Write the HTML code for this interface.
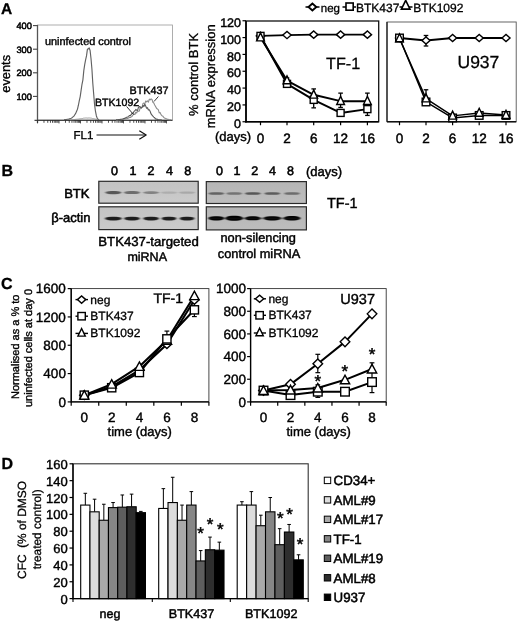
<!DOCTYPE html>
<html><head><meta charset="utf-8"><title>Figure</title>
<style>
html,body{margin:0;padding:0;background:#fff;}
body{width:520px;height:621px;overflow:hidden;font-family:"Liberation Sans",sans-serif;}
svg{display:block;will-change:transform;}
svg text{font-family:"Liberation Sans",sans-serif;}
</style></head>
<body>
<svg width="520" height="621" viewBox="0 0 520 621" shape-rendering="geometricPrecision" text-rendering="geometricPrecision">
<rect x="0" y="0" width="520" height="621" fill="#ffffff"/>
<text x="1.00" y="13.60" font-size="15.5" text-anchor="start" font-weight="bold" fill="#000" stroke="#000" stroke-width="0.3" >A</text>
<text x="1.50" y="176.00" font-size="16" text-anchor="start" font-weight="bold" fill="#000" stroke="#000" stroke-width="0.3" >B</text>
<text x="1.00" y="289.20" font-size="16" text-anchor="start" font-weight="bold" fill="#000" stroke="#000" stroke-width="0.3" >C</text>
<text x="1.50" y="468.70" font-size="16" text-anchor="start" font-weight="bold" fill="#000" stroke="#000" stroke-width="0.3" >D</text>
<rect x="37.5" y="25.0" width="135.0" height="95.0" fill="none" stroke="#9a9a9a" stroke-width="0.8"/>
<line x1="37.50" y1="25.00" x2="37.50" y2="123.00" stroke="#555" stroke-width="1.3" stroke-linecap="butt"/>
<line x1="34.50" y1="120.30" x2="172.50" y2="120.30" stroke="#444" stroke-width="1.3" stroke-linecap="butt"/>
<line x1="33.00" y1="96.40" x2="37.50" y2="96.40" stroke="#444" stroke-width="1.1" stroke-linecap="butt"/>
<text x="31.90" y="100.00" font-size="9.3" text-anchor="end" font-weight="normal" fill="#000" stroke="#000" stroke-width="0.5" >100</text>
<line x1="33.00" y1="72.80" x2="37.50" y2="72.80" stroke="#444" stroke-width="1.1" stroke-linecap="butt"/>
<text x="31.90" y="76.40" font-size="9.3" text-anchor="end" font-weight="normal" fill="#000" stroke="#000" stroke-width="0.5" >200</text>
<line x1="33.00" y1="49.20" x2="37.50" y2="49.20" stroke="#444" stroke-width="1.1" stroke-linecap="butt"/>
<text x="31.90" y="52.80" font-size="9.3" text-anchor="end" font-weight="normal" fill="#000" stroke="#000" stroke-width="0.5" >300</text>
<line x1="33.00" y1="25.60" x2="37.50" y2="25.60" stroke="#444" stroke-width="1.1" stroke-linecap="butt"/>
<text x="31.90" y="29.20" font-size="9.3" text-anchor="end" font-weight="normal" fill="#000" stroke="#000" stroke-width="0.5" >400</text>
<line x1="37.50" y1="120.00" x2="37.50" y2="123.40" stroke="#2e2e2e" stroke-width="0.85" stroke-linecap="butt"/>
<line x1="43.97" y1="120.00" x2="43.97" y2="122.80" stroke="#2e2e2e" stroke-width="0.85" stroke-linecap="butt"/>
<line x1="47.76" y1="120.00" x2="47.76" y2="122.80" stroke="#2e2e2e" stroke-width="0.85" stroke-linecap="butt"/>
<line x1="50.44" y1="120.00" x2="50.44" y2="122.80" stroke="#2e2e2e" stroke-width="0.85" stroke-linecap="butt"/>
<line x1="52.53" y1="120.00" x2="52.53" y2="122.80" stroke="#2e2e2e" stroke-width="0.85" stroke-linecap="butt"/>
<line x1="54.23" y1="120.00" x2="54.23" y2="122.80" stroke="#2e2e2e" stroke-width="0.85" stroke-linecap="butt"/>
<line x1="55.67" y1="120.00" x2="55.67" y2="122.80" stroke="#2e2e2e" stroke-width="0.85" stroke-linecap="butt"/>
<line x1="56.92" y1="120.00" x2="56.92" y2="122.80" stroke="#2e2e2e" stroke-width="0.85" stroke-linecap="butt"/>
<line x1="58.02" y1="120.00" x2="58.02" y2="122.80" stroke="#2e2e2e" stroke-width="0.85" stroke-linecap="butt"/>
<line x1="59.00" y1="120.00" x2="59.00" y2="123.40" stroke="#2e2e2e" stroke-width="0.85" stroke-linecap="butt"/>
<line x1="65.47" y1="120.00" x2="65.47" y2="122.80" stroke="#2e2e2e" stroke-width="0.85" stroke-linecap="butt"/>
<line x1="69.26" y1="120.00" x2="69.26" y2="122.80" stroke="#2e2e2e" stroke-width="0.85" stroke-linecap="butt"/>
<line x1="71.94" y1="120.00" x2="71.94" y2="122.80" stroke="#2e2e2e" stroke-width="0.85" stroke-linecap="butt"/>
<line x1="74.03" y1="120.00" x2="74.03" y2="122.80" stroke="#2e2e2e" stroke-width="0.85" stroke-linecap="butt"/>
<line x1="75.73" y1="120.00" x2="75.73" y2="122.80" stroke="#2e2e2e" stroke-width="0.85" stroke-linecap="butt"/>
<line x1="77.17" y1="120.00" x2="77.17" y2="122.80" stroke="#2e2e2e" stroke-width="0.85" stroke-linecap="butt"/>
<line x1="78.42" y1="120.00" x2="78.42" y2="122.80" stroke="#2e2e2e" stroke-width="0.85" stroke-linecap="butt"/>
<line x1="79.52" y1="120.00" x2="79.52" y2="122.80" stroke="#2e2e2e" stroke-width="0.85" stroke-linecap="butt"/>
<line x1="80.50" y1="120.00" x2="80.50" y2="123.40" stroke="#2e2e2e" stroke-width="0.85" stroke-linecap="butt"/>
<line x1="86.97" y1="120.00" x2="86.97" y2="122.80" stroke="#2e2e2e" stroke-width="0.85" stroke-linecap="butt"/>
<line x1="90.76" y1="120.00" x2="90.76" y2="122.80" stroke="#2e2e2e" stroke-width="0.85" stroke-linecap="butt"/>
<line x1="93.44" y1="120.00" x2="93.44" y2="122.80" stroke="#2e2e2e" stroke-width="0.85" stroke-linecap="butt"/>
<line x1="95.53" y1="120.00" x2="95.53" y2="122.80" stroke="#2e2e2e" stroke-width="0.85" stroke-linecap="butt"/>
<line x1="97.23" y1="120.00" x2="97.23" y2="122.80" stroke="#2e2e2e" stroke-width="0.85" stroke-linecap="butt"/>
<line x1="98.67" y1="120.00" x2="98.67" y2="122.80" stroke="#2e2e2e" stroke-width="0.85" stroke-linecap="butt"/>
<line x1="99.92" y1="120.00" x2="99.92" y2="122.80" stroke="#2e2e2e" stroke-width="0.85" stroke-linecap="butt"/>
<line x1="101.02" y1="120.00" x2="101.02" y2="122.80" stroke="#2e2e2e" stroke-width="0.85" stroke-linecap="butt"/>
<line x1="102.00" y1="120.00" x2="102.00" y2="123.40" stroke="#2e2e2e" stroke-width="0.85" stroke-linecap="butt"/>
<line x1="108.47" y1="120.00" x2="108.47" y2="122.80" stroke="#2e2e2e" stroke-width="0.85" stroke-linecap="butt"/>
<line x1="112.26" y1="120.00" x2="112.26" y2="122.80" stroke="#2e2e2e" stroke-width="0.85" stroke-linecap="butt"/>
<line x1="114.94" y1="120.00" x2="114.94" y2="122.80" stroke="#2e2e2e" stroke-width="0.85" stroke-linecap="butt"/>
<line x1="117.03" y1="120.00" x2="117.03" y2="122.80" stroke="#2e2e2e" stroke-width="0.85" stroke-linecap="butt"/>
<line x1="118.73" y1="120.00" x2="118.73" y2="122.80" stroke="#2e2e2e" stroke-width="0.85" stroke-linecap="butt"/>
<line x1="120.17" y1="120.00" x2="120.17" y2="122.80" stroke="#2e2e2e" stroke-width="0.85" stroke-linecap="butt"/>
<line x1="121.42" y1="120.00" x2="121.42" y2="122.80" stroke="#2e2e2e" stroke-width="0.85" stroke-linecap="butt"/>
<line x1="122.52" y1="120.00" x2="122.52" y2="122.80" stroke="#2e2e2e" stroke-width="0.85" stroke-linecap="butt"/>
<line x1="123.50" y1="120.00" x2="123.50" y2="123.40" stroke="#2e2e2e" stroke-width="0.85" stroke-linecap="butt"/>
<line x1="129.97" y1="120.00" x2="129.97" y2="122.80" stroke="#2e2e2e" stroke-width="0.85" stroke-linecap="butt"/>
<line x1="133.76" y1="120.00" x2="133.76" y2="122.80" stroke="#2e2e2e" stroke-width="0.85" stroke-linecap="butt"/>
<line x1="136.44" y1="120.00" x2="136.44" y2="122.80" stroke="#2e2e2e" stroke-width="0.85" stroke-linecap="butt"/>
<line x1="138.53" y1="120.00" x2="138.53" y2="122.80" stroke="#2e2e2e" stroke-width="0.85" stroke-linecap="butt"/>
<line x1="140.23" y1="120.00" x2="140.23" y2="122.80" stroke="#2e2e2e" stroke-width="0.85" stroke-linecap="butt"/>
<line x1="141.67" y1="120.00" x2="141.67" y2="122.80" stroke="#2e2e2e" stroke-width="0.85" stroke-linecap="butt"/>
<line x1="142.92" y1="120.00" x2="142.92" y2="122.80" stroke="#2e2e2e" stroke-width="0.85" stroke-linecap="butt"/>
<line x1="144.02" y1="120.00" x2="144.02" y2="122.80" stroke="#2e2e2e" stroke-width="0.85" stroke-linecap="butt"/>
<line x1="145.00" y1="120.00" x2="145.00" y2="123.40" stroke="#2e2e2e" stroke-width="0.85" stroke-linecap="butt"/>
<line x1="151.47" y1="120.00" x2="151.47" y2="122.80" stroke="#2e2e2e" stroke-width="0.85" stroke-linecap="butt"/>
<line x1="155.26" y1="120.00" x2="155.26" y2="122.80" stroke="#2e2e2e" stroke-width="0.85" stroke-linecap="butt"/>
<line x1="157.94" y1="120.00" x2="157.94" y2="122.80" stroke="#2e2e2e" stroke-width="0.85" stroke-linecap="butt"/>
<line x1="160.03" y1="120.00" x2="160.03" y2="122.80" stroke="#2e2e2e" stroke-width="0.85" stroke-linecap="butt"/>
<line x1="161.73" y1="120.00" x2="161.73" y2="122.80" stroke="#2e2e2e" stroke-width="0.85" stroke-linecap="butt"/>
<line x1="163.17" y1="120.00" x2="163.17" y2="122.80" stroke="#2e2e2e" stroke-width="0.85" stroke-linecap="butt"/>
<line x1="164.42" y1="120.00" x2="164.42" y2="122.80" stroke="#2e2e2e" stroke-width="0.85" stroke-linecap="butt"/>
<line x1="165.52" y1="120.00" x2="165.52" y2="122.80" stroke="#2e2e2e" stroke-width="0.85" stroke-linecap="butt"/>
<line x1="166.50" y1="120.00" x2="166.50" y2="123.40" stroke="#2e2e2e" stroke-width="0.85" stroke-linecap="butt"/>
<polyline points="64.00,119.72 64.90,119.63 65.80,119.54 66.70,119.41 67.60,119.25 68.50,119.11 69.40,118.89 70.30,118.48 71.20,118.19 72.10,117.71 73.00,116.83 73.90,116.11 74.80,114.75 75.70,113.38 76.60,111.22 77.50,109.12 78.40,105.24 79.30,100.72 80.20,96.55 81.10,90.36 82.00,84.28 82.90,79.86 83.80,70.62 84.70,64.69 85.60,59.82 86.50,55.89 87.40,49.36 88.30,48.88 89.20,47.94 90.10,50.51 91.00,58.53 91.90,68.74 92.80,83.25 93.70,94.21 94.60,104.93 95.50,111.47 96.40,115.94 97.30,118.41 98.20,119.41 99.10,119.81" fill="none" stroke="#626262" stroke-width="1.15" stroke-linejoin="round"/>
<polyline points="70.00,119.85 70.90,119.81 71.80,119.75 72.70,119.70 73.60,119.63 74.50,119.53 75.40,119.38 76.30,119.28 77.20,119.16 78.10,119.11 79.00,118.93 79.90,118.84 80.80,118.74 81.70,118.63 82.60,118.48 83.50,118.18 84.40,118.10 85.30,118.02 86.20,117.96 87.10,118.11 88.00,118.06 88.90,117.98 89.80,118.02 90.70,118.09 91.60,118.23 92.50,118.59 93.40,118.64 94.30,118.82 95.20,119.03 96.10,119.24 97.00,119.35 97.90,119.52" fill="none" stroke="#8a8a8a" stroke-width="0.8" stroke-linejoin="round"/>
<polyline points="116.00,119.92 116.90,119.89 117.80,119.85 118.70,119.79 119.60,119.75 120.50,119.66 121.40,119.67 122.30,119.52 123.20,119.30 124.10,119.19 125.00,118.92 125.90,118.97 126.80,118.58 127.70,118.41 128.60,117.88 129.50,117.45 130.40,117.51 131.30,116.84 132.20,116.23 133.10,114.66 134.00,114.12 134.90,114.48 135.80,112.30 136.70,113.00 137.60,110.82 138.50,111.35 139.40,110.91 140.30,106.84 141.20,108.21 142.10,107.19 143.00,103.47 143.90,102.95 144.80,104.20 145.70,101.01 146.60,101.86 147.50,100.80 148.40,102.07 149.30,99.11 150.20,99.85 151.10,98.84 152.00,99.41 152.90,102.22 153.80,102.97 154.70,104.91 155.60,106.43 156.50,108.29 157.40,109.07 158.30,109.65 159.20,112.88 160.10,112.59 161.00,114.60 161.90,115.74 162.80,116.09 163.70,117.30 164.60,118.07 165.50,118.50 166.40,118.83 167.30,119.33 168.20,119.38 169.10,119.69 170.00,119.73 170.90,119.82" fill="none" stroke="#8c8c8c" stroke-width="1.1" stroke-linejoin="round"/>
<polyline points="116.00,119.82 116.90,119.76 117.80,119.71 118.70,119.65 119.60,119.59 120.50,119.35 121.40,119.23 122.30,118.95 123.20,118.84 124.10,118.39 125.00,118.33 125.90,117.61 126.80,117.21 127.70,117.00 128.60,116.33 129.50,115.53 130.40,115.61 131.30,114.34 132.20,113.07 133.10,113.44 134.00,111.35 134.90,110.78 135.80,109.44 136.70,110.23 137.60,110.37 138.50,107.13 139.40,106.47 140.30,107.20 141.20,108.00 142.10,107.27 143.00,105.45 143.90,106.56 144.80,104.24 145.70,105.99 146.60,108.20 147.50,107.69 148.40,110.06 149.30,109.82 150.20,111.56 151.10,113.93 152.00,115.04 152.90,116.15 153.80,117.06 154.70,117.79 155.60,118.86 156.50,119.13 157.40,119.39 158.30,119.65 159.20,119.76 160.10,119.88 161.00,119.91 161.90,119.95" fill="none" stroke="#5a5a5a" stroke-width="1.1" stroke-linejoin="round"/>
<text x="45.00" y="44.80" font-size="10.9" text-anchor="start" font-weight="normal" fill="#000" stroke="#000" stroke-width="0.4" >uninfected control</text>
<text x="129.50" y="94.00" font-size="10.8" text-anchor="start" font-weight="normal" fill="#000" stroke="#000" stroke-width="0.4" >BTK437</text>
<text x="95.00" y="105.50" font-size="10.6" text-anchor="start" font-weight="normal" fill="#000" stroke="#000" stroke-width="0.4" >BTK1092</text>
<line x1="154.00" y1="101.50" x2="158.40" y2="96.50" stroke="#222" stroke-width="0.9" stroke-linecap="butt"/>
<line x1="126.60" y1="106.50" x2="133.50" y2="114.50" stroke="#222" stroke-width="0.9" stroke-linecap="butt"/>
<text transform="translate(9.60,73.80) rotate(-90)" font-size="12.8" text-anchor="middle" font-weight="normal" fill="#000" stroke="#000" stroke-width="0.35">events</text>
<text x="73.50" y="139.00" font-size="11.5" text-anchor="start" font-weight="normal" fill="#000" stroke="#000" stroke-width="0.35" >FL1</text>
<line x1="96.50" y1="135.00" x2="146.00" y2="135.00" stroke="#111" stroke-width="1.2" stroke-linecap="butt"/>
<polyline points="139.30,130.80 146.20,135.00 139.30,139.20" fill="none" stroke="#111" stroke-width="1.2" stroke-linejoin="round"/>
<rect x="246.0" y="21.0" width="132.7" height="100.75" fill="none" stroke="#111" stroke-width="1.3"/>
<line x1="246.00" y1="21.00" x2="246.00" y2="122.45" stroke="#000" stroke-width="1.6" stroke-linecap="butt"/>
<line x1="245.20" y1="121.75" x2="378.70" y2="121.75" stroke="#000" stroke-width="1.6" stroke-linecap="butt"/>
<line x1="242.50" y1="121.75" x2="246.00" y2="121.75" stroke="#000" stroke-width="1.2" stroke-linecap="butt"/>
<text x="241.00" y="127.95" font-size="12.5" text-anchor="end" font-weight="normal" fill="#000" stroke="#000" stroke-width="0.45" >0</text>
<line x1="242.50" y1="104.92" x2="246.00" y2="104.92" stroke="#000" stroke-width="1.2" stroke-linecap="butt"/>
<text x="241.00" y="111.12" font-size="12.5" text-anchor="end" font-weight="normal" fill="#000" stroke="#000" stroke-width="0.45" >20</text>
<line x1="242.50" y1="88.08" x2="246.00" y2="88.08" stroke="#000" stroke-width="1.2" stroke-linecap="butt"/>
<text x="241.00" y="94.28" font-size="12.5" text-anchor="end" font-weight="normal" fill="#000" stroke="#000" stroke-width="0.45" >40</text>
<line x1="242.50" y1="71.25" x2="246.00" y2="71.25" stroke="#000" stroke-width="1.2" stroke-linecap="butt"/>
<text x="241.00" y="77.45" font-size="12.5" text-anchor="end" font-weight="normal" fill="#000" stroke="#000" stroke-width="0.45" >60</text>
<line x1="242.50" y1="54.42" x2="246.00" y2="54.42" stroke="#000" stroke-width="1.2" stroke-linecap="butt"/>
<text x="241.00" y="60.62" font-size="12.5" text-anchor="end" font-weight="normal" fill="#000" stroke="#000" stroke-width="0.45" >80</text>
<line x1="242.50" y1="37.58" x2="246.00" y2="37.58" stroke="#000" stroke-width="1.2" stroke-linecap="butt"/>
<text x="241.00" y="43.78" font-size="12.5" text-anchor="end" font-weight="normal" fill="#000" stroke="#000" stroke-width="0.45" >100</text>
<line x1="242.50" y1="20.75" x2="246.00" y2="20.75" stroke="#000" stroke-width="1.2" stroke-linecap="butt"/>
<text x="241.00" y="26.95" font-size="12.5" text-anchor="end" font-weight="normal" fill="#000" stroke="#000" stroke-width="0.45" >120</text>
<line x1="260.50" y1="121.75" x2="260.50" y2="125.25" stroke="#000" stroke-width="1.2" stroke-linecap="butt"/>
<line x1="287.00" y1="121.75" x2="287.00" y2="125.25" stroke="#000" stroke-width="1.2" stroke-linecap="butt"/>
<line x1="313.70" y1="121.75" x2="313.70" y2="125.25" stroke="#000" stroke-width="1.2" stroke-linecap="butt"/>
<line x1="340.60" y1="121.75" x2="340.60" y2="125.25" stroke="#000" stroke-width="1.2" stroke-linecap="butt"/>
<line x1="367.40" y1="121.75" x2="367.40" y2="125.25" stroke="#000" stroke-width="1.2" stroke-linecap="butt"/>
<text x="260.50" y="142.50" font-size="13.5" text-anchor="middle" font-weight="normal" fill="#000" stroke="#000" stroke-width="0.45" >0</text>
<text x="287.00" y="142.50" font-size="13.5" text-anchor="middle" font-weight="normal" fill="#000" stroke="#000" stroke-width="0.45" >2</text>
<text x="313.70" y="142.50" font-size="13.5" text-anchor="middle" font-weight="normal" fill="#000" stroke="#000" stroke-width="0.45" >6</text>
<text x="340.60" y="142.50" font-size="13.5" text-anchor="middle" font-weight="normal" fill="#000" stroke="#000" stroke-width="0.45" >12</text>
<text x="367.40" y="142.50" font-size="13.5" text-anchor="middle" font-weight="normal" fill="#000" stroke="#000" stroke-width="0.45" >16</text>
<text x="215.00" y="141.00" font-size="13" text-anchor="start" font-weight="normal" fill="#000" stroke="#000" stroke-width="0.4" >(days)</text>
<text transform="translate(198.00,74.40) rotate(-90)" font-size="13" text-anchor="middle" font-weight="normal" fill="#000" stroke="#000" stroke-width="0.3">% control BTK</text>
<text transform="translate(214.50,76.30) rotate(-90)" font-size="13" text-anchor="middle" font-weight="normal" fill="#000" stroke="#000" stroke-width="0.3">mRNA expression</text>
<polyline points="260.50,35.90 287.00,35.06 313.70,34.64 340.60,34.64 367.40,34.64" fill="none" stroke="#000" stroke-width="1.8" stroke-linejoin="round"/>
<polyline points="260.50,35.90 287.00,83.88 313.70,99.87 340.60,112.91 367.40,109.12" fill="none" stroke="#000" stroke-width="2.0" stroke-linejoin="round"/>
<polyline points="260.50,37.58 287.00,80.51 313.70,94.82 340.60,101.13 367.40,101.13" fill="none" stroke="#000" stroke-width="2.0" stroke-linejoin="round"/>
<line x1="287.00" y1="77.98" x2="287.00" y2="87.24" stroke="#000" stroke-width="1.3" stroke-linecap="butt"/>
<line x1="284.70" y1="77.98" x2="289.30" y2="77.98" stroke="#000" stroke-width="1.3" stroke-linecap="butt"/>
<line x1="284.70" y1="87.24" x2="289.30" y2="87.24" stroke="#000" stroke-width="1.3" stroke-linecap="butt"/>
<line x1="313.70" y1="88.92" x2="313.70" y2="107.86" stroke="#000" stroke-width="1.3" stroke-linecap="butt"/>
<line x1="311.40" y1="88.92" x2="316.00" y2="88.92" stroke="#000" stroke-width="1.3" stroke-linecap="butt"/>
<line x1="311.40" y1="107.86" x2="316.00" y2="107.86" stroke="#000" stroke-width="1.3" stroke-linecap="butt"/>
<line x1="340.60" y1="93.13" x2="340.60" y2="107.44" stroke="#000" stroke-width="1.3" stroke-linecap="butt"/>
<line x1="338.30" y1="93.13" x2="342.90" y2="93.13" stroke="#000" stroke-width="1.3" stroke-linecap="butt"/>
<line x1="338.30" y1="107.44" x2="342.90" y2="107.44" stroke="#000" stroke-width="1.3" stroke-linecap="butt"/>
<line x1="367.40" y1="93.13" x2="367.40" y2="115.44" stroke="#000" stroke-width="1.3" stroke-linecap="butt"/>
<line x1="365.10" y1="93.13" x2="369.70" y2="93.13" stroke="#000" stroke-width="1.3" stroke-linecap="butt"/>
<line x1="365.10" y1="115.44" x2="369.70" y2="115.44" stroke="#000" stroke-width="1.3" stroke-linecap="butt"/>
<path d="M256.36,35.90 L260.50,32.30 L264.64,35.90 L260.50,39.50 Z" fill="#fff" stroke="#000" stroke-width="1.4" stroke-linejoin="miter"/>
<path d="M282.86,35.06 L287.00,31.46 L291.14,35.06 L287.00,38.66 Z" fill="#fff" stroke="#000" stroke-width="1.4" stroke-linejoin="miter"/>
<path d="M309.56,34.64 L313.70,31.04 L317.84,34.64 L313.70,38.24 Z" fill="#fff" stroke="#000" stroke-width="1.4" stroke-linejoin="miter"/>
<path d="M336.46,34.64 L340.60,31.04 L344.74,34.64 L340.60,38.24 Z" fill="#fff" stroke="#000" stroke-width="1.4" stroke-linejoin="miter"/>
<path d="M363.26,34.64 L367.40,31.04 L371.54,34.64 L367.40,38.24 Z" fill="#fff" stroke="#000" stroke-width="1.4" stroke-linejoin="miter"/>
<rect x="257.00" y="32.40" width="7.00" height="7.00" fill="#fff" stroke="#000" stroke-width="1.4"/>
<rect x="283.50" y="80.38" width="7.00" height="7.00" fill="#fff" stroke="#000" stroke-width="1.4"/>
<rect x="310.20" y="96.37" width="7.00" height="7.00" fill="#fff" stroke="#000" stroke-width="1.4"/>
<rect x="337.10" y="109.41" width="7.00" height="7.00" fill="#fff" stroke="#000" stroke-width="1.4"/>
<rect x="363.90" y="105.62" width="7.00" height="7.00" fill="#fff" stroke="#000" stroke-width="1.4"/>
<path d="M256.60,40.90 L260.50,32.90 L264.40,40.90 Z" fill="#fff" stroke="#000" stroke-width="1.4" stroke-linejoin="miter"/>
<path d="M283.10,83.82 L287.00,75.83 L290.90,83.82 Z" fill="#fff" stroke="#000" stroke-width="1.4" stroke-linejoin="miter"/>
<path d="M309.80,98.13 L313.70,90.14 L317.60,98.13 Z" fill="#fff" stroke="#000" stroke-width="1.4" stroke-linejoin="miter"/>
<path d="M336.70,104.44 L340.60,96.45 L344.50,104.44 Z" fill="#fff" stroke="#000" stroke-width="1.4" stroke-linejoin="miter"/>
<path d="M363.50,104.44 L367.40,96.45 L371.30,104.44 Z" fill="#fff" stroke="#000" stroke-width="1.4" stroke-linejoin="miter"/>
<text x="326.00" y="68.90" font-size="16.2" text-anchor="start" font-weight="normal" fill="#000" stroke="#000" stroke-width="0.3" >TF-1</text>
<rect x="387.0" y="22.0" width="129.20000000000005" height="99.75" fill="none" stroke="#555" stroke-width="0.9"/>
<line x1="387.00" y1="22.00" x2="387.00" y2="121.75" stroke="#222" stroke-width="1.3" stroke-linecap="butt"/>
<line x1="387.00" y1="121.75" x2="516.20" y2="121.75" stroke="#111" stroke-width="1.3" stroke-linecap="butt"/>
<line x1="399.50" y1="121.75" x2="399.50" y2="125.25" stroke="#000" stroke-width="1.2" stroke-linecap="butt"/>
<line x1="426.00" y1="121.75" x2="426.00" y2="125.25" stroke="#000" stroke-width="1.2" stroke-linecap="butt"/>
<line x1="452.60" y1="121.75" x2="452.60" y2="125.25" stroke="#000" stroke-width="1.2" stroke-linecap="butt"/>
<line x1="479.20" y1="121.75" x2="479.20" y2="125.25" stroke="#000" stroke-width="1.2" stroke-linecap="butt"/>
<line x1="506.00" y1="121.75" x2="506.00" y2="125.25" stroke="#000" stroke-width="1.2" stroke-linecap="butt"/>
<text x="399.50" y="142.50" font-size="13.5" text-anchor="middle" font-weight="normal" fill="#000" stroke="#000" stroke-width="0.45" >0</text>
<text x="426.00" y="142.50" font-size="13.5" text-anchor="middle" font-weight="normal" fill="#000" stroke="#000" stroke-width="0.45" >2</text>
<text x="452.60" y="142.50" font-size="13.5" text-anchor="middle" font-weight="normal" fill="#000" stroke="#000" stroke-width="0.45" >6</text>
<text x="479.20" y="142.50" font-size="13.5" text-anchor="middle" font-weight="normal" fill="#000" stroke="#000" stroke-width="0.45" >12</text>
<text x="506.00" y="142.50" font-size="13.5" text-anchor="middle" font-weight="normal" fill="#000" stroke="#000" stroke-width="0.45" >16</text>
<polyline points="399.50,38.00 426.00,40.53 452.60,38.00 479.20,38.00 506.00,38.00" fill="none" stroke="#000" stroke-width="1.9" stroke-linejoin="round"/>
<polyline points="399.50,38.00 426.00,101.97 452.60,117.96 479.20,115.44 506.00,115.44" fill="none" stroke="#000" stroke-width="1.45" stroke-linejoin="round"/>
<polyline points="399.50,38.42 426.00,98.60 452.60,115.86 479.20,112.91 506.00,115.02" fill="none" stroke="#000" stroke-width="1.45" stroke-linejoin="round"/>
<line x1="426.00" y1="35.48" x2="426.00" y2="46.00" stroke="#000" stroke-width="1.3" stroke-linecap="butt"/>
<line x1="423.70" y1="35.48" x2="428.30" y2="35.48" stroke="#000" stroke-width="1.3" stroke-linecap="butt"/>
<line x1="423.70" y1="46.00" x2="428.30" y2="46.00" stroke="#000" stroke-width="1.3" stroke-linecap="butt"/>
<line x1="426.00" y1="89.77" x2="426.00" y2="99.03" stroke="#000" stroke-width="1.3" stroke-linecap="butt"/>
<line x1="423.70" y1="89.77" x2="428.30" y2="89.77" stroke="#000" stroke-width="1.3" stroke-linecap="butt"/>
<path d="M395.48,38.00 L399.50,34.50 L403.52,38.00 L399.50,41.50 Z" fill="#fff" stroke="#000" stroke-width="1.4" stroke-linejoin="miter"/>
<path d="M421.98,40.53 L426.00,37.03 L430.02,40.53 L426.00,44.03 Z" fill="#fff" stroke="#000" stroke-width="1.4" stroke-linejoin="miter"/>
<path d="M448.58,38.00 L452.60,34.50 L456.62,38.00 L452.60,41.50 Z" fill="#fff" stroke="#000" stroke-width="1.4" stroke-linejoin="miter"/>
<path d="M475.18,38.00 L479.20,34.50 L483.22,38.00 L479.20,41.50 Z" fill="#fff" stroke="#000" stroke-width="1.4" stroke-linejoin="miter"/>
<path d="M501.98,38.00 L506.00,34.50 L510.02,38.00 L506.00,41.50 Z" fill="#fff" stroke="#000" stroke-width="1.4" stroke-linejoin="miter"/>
<rect x="395.70" y="34.20" width="7.60" height="7.60" fill="#fff" stroke="#000" stroke-width="1.4"/>
<rect x="422.20" y="98.17" width="7.60" height="7.60" fill="#fff" stroke="#000" stroke-width="1.4"/>
<rect x="448.80" y="114.16" width="7.60" height="7.60" fill="#fff" stroke="#000" stroke-width="1.4"/>
<rect x="475.40" y="111.64" width="7.60" height="7.60" fill="#fff" stroke="#000" stroke-width="1.4"/>
<rect x="502.20" y="111.64" width="7.60" height="7.60" fill="#fff" stroke="#000" stroke-width="1.4"/>
<path d="M395.60,41.74 L399.50,33.74 L403.40,41.74 Z" fill="#fff" stroke="#000" stroke-width="1.4" stroke-linejoin="miter"/>
<path d="M422.10,101.92 L426.00,93.92 L429.90,101.92 Z" fill="#fff" stroke="#000" stroke-width="1.4" stroke-linejoin="miter"/>
<path d="M448.70,119.17 L452.60,111.18 L456.50,119.17 Z" fill="#fff" stroke="#000" stroke-width="1.4" stroke-linejoin="miter"/>
<path d="M475.30,116.23 L479.20,108.23 L483.10,116.23 Z" fill="#fff" stroke="#000" stroke-width="1.4" stroke-linejoin="miter"/>
<path d="M502.10,118.33 L506.00,110.34 L509.90,118.33 Z" fill="#fff" stroke="#000" stroke-width="1.4" stroke-linejoin="miter"/>
<text x="457.50" y="68.30" font-size="17.5" text-anchor="start" font-weight="normal" fill="#000" stroke="#000" stroke-width="0.3" >U937</text>
<line x1="305.50" y1="7.00" x2="319.50" y2="7.00" stroke="#000" stroke-width="1.5" stroke-linecap="butt"/>
<path d="M308.49,7.00 L312.40,3.60 L316.31,7.00 L312.40,10.40 Z" fill="#fff" stroke="#000" stroke-width="1.9" stroke-linejoin="miter"/>
<text x="320.80" y="11.80" font-size="11.5" text-anchor="start" font-weight="normal" fill="#000" stroke="#000" stroke-width="0.3" >neg</text>
<line x1="342.50" y1="7.00" x2="356.00" y2="7.00" stroke="#000" stroke-width="1.5" stroke-linecap="butt"/>
<rect x="346.00" y="3.00" width="7.20" height="7.20" fill="#fff" stroke="#000" stroke-width="1.6"/>
<text x="356.00" y="11.80" font-size="12" text-anchor="start" font-weight="normal" fill="#000" stroke="#000" stroke-width="0.3" >BTK437</text>
<line x1="399.50" y1="7.00" x2="412.50" y2="7.00" stroke="#000" stroke-width="1.5" stroke-linecap="butt"/>
<path d="M401.40,9.15 L405.70,0.34 L410.00,9.15 Z" fill="#fff" stroke="#000" stroke-width="1.6" stroke-linejoin="miter"/>
<text x="413.30" y="11.80" font-size="12" text-anchor="start" font-weight="normal" fill="#000" stroke="#000" stroke-width="0.3" >BTK1092</text>
<defs>
<filter id="blur1" x="-20%" y="-100%" width="140%" height="300%"><feGaussianBlur stdDeviation="0.9 0.75"/></filter>
<filter id="blur2" x="-20%" y="-100%" width="140%" height="300%"><feGaussianBlur stdDeviation="1.0 0.8"/></filter>
<linearGradient id="gL" x1="0" x2="0" y1="0" y2="1"><stop offset="0" stop-color="#c3c3c3"/><stop offset="1" stop-color="#cbcbcb"/></linearGradient>
<linearGradient id="gR" x1="0" x2="0" y1="0" y2="1"><stop offset="0" stop-color="#b6b6b6"/><stop offset="1" stop-color="#bdbdbd"/></linearGradient>
</defs>
<rect x="98.8" y="181.3" width="99.39999999999999" height="21.899999999999977" fill="url(#gL)" stroke="#2a2a2a" stroke-width="1.2"/>
<rect x="98.8" y="206.8" width="99.39999999999999" height="22.799999999999983" fill="url(#gL)" stroke="#2a2a2a" stroke-width="1.2"/>
<rect x="206.3" y="181.6" width="100.09999999999997" height="21.900000000000006" fill="url(#gR)" stroke="#2a2a2a" stroke-width="1.2"/>
<rect x="206.3" y="206.8" width="100.09999999999997" height="23.099999999999994" fill="url(#gR)" stroke="#2a2a2a" stroke-width="1.2"/>
<rect x="105.30" y="191.00" width="16.00" height="3.20" rx="5.76" ry="1.60" fill="#4c4c4c" opacity="0.9" filter="url(#blur1)"/>
<rect x="124.00" y="191.10" width="16.00" height="3.00" rx="5.76" ry="1.50" fill="#4c4c4c" opacity="0.72" filter="url(#blur1)"/>
<rect x="143.10" y="191.25" width="16.00" height="2.70" rx="5.76" ry="1.35" fill="#4c4c4c" opacity="0.55" filter="url(#blur1)"/>
<rect x="161.00" y="191.50" width="16.00" height="2.20" rx="5.76" ry="1.10" fill="#4c4c4c" opacity="0.2" filter="url(#blur1)"/>
<rect x="179.00" y="191.50" width="16.00" height="2.20" rx="5.76" ry="1.10" fill="#4c4c4c" opacity="0.24" filter="url(#blur1)"/>
<rect x="105.05" y="216.80" width="16.50" height="3.60" rx="5.94" ry="1.80" fill="#1e1e1e" opacity="1.0" filter="url(#blur1)"/>
<rect x="124.25" y="216.80" width="15.50" height="3.60" rx="5.58" ry="1.80" fill="#1e1e1e" opacity="1.0" filter="url(#blur1)"/>
<rect x="143.35" y="216.80" width="15.50" height="3.60" rx="5.58" ry="1.80" fill="#1e1e1e" opacity="1.0" filter="url(#blur1)"/>
<rect x="161.75" y="216.80" width="14.50" height="3.60" rx="5.22" ry="1.80" fill="#1e1e1e" opacity="1.0" filter="url(#blur1)"/>
<rect x="179.75" y="216.80" width="14.50" height="3.60" rx="5.22" ry="1.80" fill="#1e1e1e" opacity="1.0" filter="url(#blur1)"/>
<rect x="208.55" y="192.20" width="15.50" height="2.60" rx="5.58" ry="1.30" fill="#444444" opacity="0.75" filter="url(#blur1)"/>
<rect x="226.45" y="192.20" width="15.50" height="2.60" rx="5.58" ry="1.30" fill="#444444" opacity="0.6" filter="url(#blur1)"/>
<rect x="245.05" y="192.20" width="15.50" height="2.60" rx="5.58" ry="1.30" fill="#444444" opacity="0.85" filter="url(#blur1)"/>
<rect x="264.55" y="192.20" width="15.50" height="2.60" rx="5.58" ry="1.30" fill="#444444" opacity="0.8" filter="url(#blur1)"/>
<rect x="284.25" y="192.20" width="15.50" height="2.60" rx="5.58" ry="1.30" fill="#444444" opacity="0.66" filter="url(#blur1)"/>
<rect x="208.55" y="216.15" width="15.50" height="4.30" rx="5.58" ry="2.15" fill="#060606" opacity="1.0" filter="url(#blur1)"/>
<rect x="225.70" y="215.80" width="17.00" height="5.00" rx="6.12" ry="2.50" fill="#060606" opacity="1.0" filter="url(#blur1)"/>
<rect x="245.05" y="216.30" width="15.50" height="4.00" rx="5.58" ry="2.00" fill="#060606" opacity="1.0" filter="url(#blur1)"/>
<rect x="263.80" y="216.20" width="17.00" height="4.20" rx="6.12" ry="2.10" fill="#060606" opacity="1.0" filter="url(#blur1)"/>
<rect x="283.75" y="216.10" width="16.50" height="4.40" rx="5.94" ry="2.20" fill="#060606" opacity="1.0" filter="url(#blur1)"/>
<rect x="209" y="217.5" width="91" height="1.8" fill="#1a1a1a" opacity="0.45" filter="url(#blur1)"/>
<text x="114.50" y="175.20" font-size="12.5" text-anchor="middle" font-weight="normal" fill="#000" stroke="#000" stroke-width="0.55" >0</text>
<text x="133.00" y="175.20" font-size="12.5" text-anchor="middle" font-weight="normal" fill="#000" stroke="#000" stroke-width="0.55" >1</text>
<text x="151.00" y="175.20" font-size="12.5" text-anchor="middle" font-weight="normal" fill="#000" stroke="#000" stroke-width="0.55" >2</text>
<text x="169.50" y="175.20" font-size="12.5" text-anchor="middle" font-weight="normal" fill="#000" stroke="#000" stroke-width="0.55" >4</text>
<text x="187.70" y="175.20" font-size="12.5" text-anchor="middle" font-weight="normal" fill="#000" stroke="#000" stroke-width="0.55" >8</text>
<text x="219.50" y="175.20" font-size="12.5" text-anchor="middle" font-weight="normal" fill="#000" stroke="#000" stroke-width="0.55" >0</text>
<text x="237.00" y="175.20" font-size="12.5" text-anchor="middle" font-weight="normal" fill="#000" stroke="#000" stroke-width="0.55" >1</text>
<text x="254.70" y="175.20" font-size="12.5" text-anchor="middle" font-weight="normal" fill="#000" stroke="#000" stroke-width="0.55" >2</text>
<text x="272.50" y="175.20" font-size="12.5" text-anchor="middle" font-weight="normal" fill="#000" stroke="#000" stroke-width="0.55" >4</text>
<text x="290.50" y="175.20" font-size="12.5" text-anchor="middle" font-weight="normal" fill="#000" stroke="#000" stroke-width="0.55" >8</text>
<text x="306.00" y="175.60" font-size="13" text-anchor="start" font-weight="normal" fill="#000" stroke="#000" stroke-width="0.45" >(days)</text>
<text x="89.50" y="197.60" font-size="13" text-anchor="end" font-weight="normal" fill="#000" stroke="#000" stroke-width="0.55" >BTK</text>
<text x="90.50" y="222.20" font-size="13" text-anchor="end" font-weight="normal" fill="#000" stroke="#000" stroke-width="0.5" >β-actin</text>
<text x="148.50" y="246.20" font-size="13.2" text-anchor="middle" font-weight="normal" fill="#000" stroke="#000" stroke-width="0.45" >BTK437-targeted</text>
<text x="147.20" y="261.30" font-size="12.5" text-anchor="middle" font-weight="normal" fill="#000" stroke="#000" stroke-width="0.45" >miRNA</text>
<text x="258.20" y="242.20" font-size="12.8" text-anchor="middle" font-weight="normal" fill="#000" stroke="#000" stroke-width="0.45" >non-silencing</text>
<text x="259.00" y="258.20" font-size="12.8" text-anchor="middle" font-weight="normal" fill="#000" stroke="#000" stroke-width="0.45" >control miRNA</text>
<text x="327.00" y="207.70" font-size="14.5" text-anchor="start" font-weight="normal" fill="#000" stroke="#000" stroke-width="0.4" >TF-1</text>
<rect x="71.2" y="288.6" width="137.7" height="113.29999999999995" fill="none" stroke="#333" stroke-width="0.9"/>
<line x1="71.20" y1="288.60" x2="71.20" y2="402.50" stroke="#000" stroke-width="1.4" stroke-linecap="butt"/>
<line x1="71.20" y1="401.90" x2="208.90" y2="401.90" stroke="#000" stroke-width="1.4" stroke-linecap="butt"/>
<line x1="67.70" y1="401.90" x2="71.20" y2="401.90" stroke="#000" stroke-width="1.2" stroke-linecap="butt"/>
<text x="65.90" y="406.50" font-size="13.5" text-anchor="end" font-weight="normal" fill="#000" stroke="#000" stroke-width="0.4" >0</text>
<line x1="67.70" y1="373.57" x2="71.20" y2="373.57" stroke="#000" stroke-width="1.2" stroke-linecap="butt"/>
<text x="65.90" y="378.18" font-size="13.5" text-anchor="end" font-weight="normal" fill="#000" stroke="#000" stroke-width="0.4" >400</text>
<line x1="67.70" y1="345.25" x2="71.20" y2="345.25" stroke="#000" stroke-width="1.2" stroke-linecap="butt"/>
<text x="65.90" y="349.85" font-size="13.5" text-anchor="end" font-weight="normal" fill="#000" stroke="#000" stroke-width="0.4" >800</text>
<line x1="67.70" y1="316.93" x2="71.20" y2="316.93" stroke="#000" stroke-width="1.2" stroke-linecap="butt"/>
<text x="65.90" y="321.53" font-size="13.5" text-anchor="end" font-weight="normal" fill="#000" stroke="#000" stroke-width="0.4" >1200</text>
<line x1="67.70" y1="288.60" x2="71.20" y2="288.60" stroke="#000" stroke-width="1.2" stroke-linecap="butt"/>
<text x="65.90" y="293.20" font-size="13.5" text-anchor="end" font-weight="normal" fill="#000" stroke="#000" stroke-width="0.4" >1600</text>
<line x1="71.20" y1="401.90" x2="71.20" y2="405.70" stroke="#000" stroke-width="1.2" stroke-linecap="butt"/>
<line x1="98.74" y1="401.90" x2="98.74" y2="405.70" stroke="#000" stroke-width="1.2" stroke-linecap="butt"/>
<line x1="126.28" y1="401.90" x2="126.28" y2="405.70" stroke="#000" stroke-width="1.2" stroke-linecap="butt"/>
<line x1="153.82" y1="401.90" x2="153.82" y2="405.70" stroke="#000" stroke-width="1.2" stroke-linecap="butt"/>
<line x1="181.36" y1="401.90" x2="181.36" y2="405.70" stroke="#000" stroke-width="1.2" stroke-linecap="butt"/>
<line x1="208.90" y1="401.90" x2="208.90" y2="405.70" stroke="#000" stroke-width="1.2" stroke-linecap="butt"/>
<text x="84.30" y="422.00" font-size="13.5" text-anchor="middle" font-weight="normal" fill="#000" stroke="#000" stroke-width="0.4" >0</text>
<text x="111.70" y="422.00" font-size="13.5" text-anchor="middle" font-weight="normal" fill="#000" stroke="#000" stroke-width="0.4" >2</text>
<text x="139.40" y="422.00" font-size="13.5" text-anchor="middle" font-weight="normal" fill="#000" stroke="#000" stroke-width="0.4" >4</text>
<text x="166.90" y="422.00" font-size="13.5" text-anchor="middle" font-weight="normal" fill="#000" stroke="#000" stroke-width="0.4" >6</text>
<text x="194.40" y="422.00" font-size="13.5" text-anchor="middle" font-weight="normal" fill="#000" stroke="#000" stroke-width="0.4" >8</text>
<text x="139.70" y="435.80" font-size="13" text-anchor="middle" font-weight="normal" fill="#000" stroke="#000" stroke-width="0.4" >time (days)</text>
<text transform="translate(18.60,346.80) rotate(-90)" font-size="11" text-anchor="middle" font-weight="normal" fill="#000" stroke="#000" stroke-width="0.35">Normalised as a % to</text>
<text transform="translate(31.70,348.00) rotate(-90)" font-size="11" text-anchor="middle" font-weight="normal" fill="#000" stroke="#000" stroke-width="0.35">uninfected cells at day 0</text>
<polyline points="84.30,395.17 111.70,386.68 139.40,370.03 166.90,344.19 194.40,299.93" fill="none" stroke="#000" stroke-width="2.1" stroke-linejoin="round"/>
<polyline points="84.30,395.17 111.70,387.74 139.40,372.51 166.90,338.88 194.40,309.84" fill="none" stroke="#000" stroke-width="2.1" stroke-linejoin="round"/>
<polyline points="84.30,395.17 111.70,384.20 139.40,366.49 166.90,340.29 194.40,295.68" fill="none" stroke="#000" stroke-width="2.1" stroke-linejoin="round"/>
<line x1="166.90" y1="331.09" x2="166.90" y2="345.25" stroke="#000" stroke-width="1.2" stroke-linecap="butt"/>
<line x1="164.50" y1="331.09" x2="169.30" y2="331.09" stroke="#000" stroke-width="1.2" stroke-linecap="butt"/>
<line x1="164.50" y1="345.25" x2="169.30" y2="345.25" stroke="#000" stroke-width="1.2" stroke-linecap="butt"/>
<line x1="194.40" y1="302.05" x2="194.40" y2="316.57" stroke="#000" stroke-width="1.2" stroke-linecap="butt"/>
<line x1="192.00" y1="302.05" x2="196.80" y2="302.05" stroke="#000" stroke-width="1.2" stroke-linecap="butt"/>
<line x1="192.00" y1="316.57" x2="196.80" y2="316.57" stroke="#000" stroke-width="1.2" stroke-linecap="butt"/>
<path d="M79.68,395.17 L84.30,390.77 L88.92,395.17 L84.30,399.57 Z" fill="#fff" stroke="#000" stroke-width="1.4" stroke-linejoin="miter"/>
<path d="M107.08,386.68 L111.70,382.28 L116.32,386.68 L111.70,391.08 Z" fill="#fff" stroke="#000" stroke-width="1.4" stroke-linejoin="miter"/>
<path d="M134.78,370.03 L139.40,365.63 L144.02,370.03 L139.40,374.43 Z" fill="#fff" stroke="#000" stroke-width="1.4" stroke-linejoin="miter"/>
<path d="M162.28,344.19 L166.90,339.79 L171.52,344.19 L166.90,348.59 Z" fill="#fff" stroke="#000" stroke-width="1.4" stroke-linejoin="miter"/>
<path d="M189.78,299.93 L194.40,295.53 L199.02,299.93 L194.40,304.33 Z" fill="#fff" stroke="#000" stroke-width="1.4" stroke-linejoin="miter"/>
<path d="M162.30,344.20 L166.90,335.83 L171.50,344.20 Z" fill="#fff" stroke="#000" stroke-width="1.4" stroke-linejoin="miter"/>
<rect x="80.20" y="391.07" width="8.20" height="8.20" fill="#fff" stroke="#000" stroke-width="1.4"/>
<rect x="107.60" y="383.64" width="8.20" height="8.20" fill="#fff" stroke="#000" stroke-width="1.4"/>
<rect x="135.30" y="368.41" width="8.20" height="8.20" fill="#fff" stroke="#000" stroke-width="1.4"/>
<rect x="162.80" y="334.78" width="8.20" height="8.20" fill="#fff" stroke="#000" stroke-width="1.4"/>
<rect x="190.30" y="305.74" width="8.20" height="8.20" fill="#fff" stroke="#000" stroke-width="1.4"/>
<path d="M79.70,399.08 L84.30,390.71 L88.90,399.08 Z" fill="#fff" stroke="#000" stroke-width="1.4" stroke-linejoin="miter"/>
<path d="M107.10,388.11 L111.70,379.73 L116.30,388.11 Z" fill="#fff" stroke="#000" stroke-width="1.4" stroke-linejoin="miter"/>
<path d="M134.80,370.40 L139.40,362.03 L144.00,370.40 Z" fill="#fff" stroke="#000" stroke-width="1.4" stroke-linejoin="miter"/>
<path d="M189.80,299.59 L194.40,291.22 L199.00,299.59 Z" fill="#fff" stroke="#000" stroke-width="1.4" stroke-linejoin="miter"/>
<line x1="75.50" y1="299.60" x2="88.00" y2="299.60" stroke="#000" stroke-width="1.4" stroke-linecap="butt"/>
<path d="M77.46,299.60 L81.60,296.00 L85.74,299.60 L81.60,303.20 Z" fill="#fff" stroke="#000" stroke-width="1.4" stroke-linejoin="miter"/>
<text x="90.30" y="303.60" font-size="12" text-anchor="start" font-weight="normal" fill="#000" stroke="#000" stroke-width="0.3" >neg</text>
<line x1="75.50" y1="316.20" x2="88.00" y2="316.20" stroke="#000" stroke-width="1.4" stroke-linecap="butt"/>
<rect x="77.90" y="312.50" width="7.40" height="7.40" fill="#fff" stroke="#000" stroke-width="1.4"/>
<text x="90.30" y="320.20" font-size="12" text-anchor="start" font-weight="normal" fill="#000" stroke="#000" stroke-width="0.3" >BTK437</text>
<line x1="75.50" y1="333.40" x2="88.00" y2="333.40" stroke="#000" stroke-width="1.4" stroke-linecap="butt"/>
<path d="M77.90,336.14 L81.60,328.56 L85.30,336.14 Z" fill="#fff" stroke="#000" stroke-width="1.4" stroke-linejoin="miter"/>
<text x="90.30" y="337.40" font-size="12" text-anchor="start" font-weight="normal" fill="#000" stroke="#000" stroke-width="0.3" >BTK1092</text>
<text x="153.40" y="303.10" font-size="14" text-anchor="start" font-weight="normal" fill="#000" stroke="#000" stroke-width="0.4" >TF-1</text>
<rect x="250.6" y="288.6" width="135.6" height="113.29999999999995" fill="none" stroke="#333" stroke-width="0.9"/>
<line x1="250.60" y1="288.60" x2="250.60" y2="402.50" stroke="#000" stroke-width="1.4" stroke-linecap="butt"/>
<line x1="250.60" y1="401.90" x2="386.20" y2="401.90" stroke="#000" stroke-width="1.4" stroke-linecap="butt"/>
<line x1="247.10" y1="401.90" x2="250.60" y2="401.90" stroke="#000" stroke-width="1.2" stroke-linecap="butt"/>
<text x="246.00" y="406.50" font-size="13.5" text-anchor="end" font-weight="normal" fill="#000" stroke="#000" stroke-width="0.4" >0</text>
<line x1="247.10" y1="379.24" x2="250.60" y2="379.24" stroke="#000" stroke-width="1.2" stroke-linecap="butt"/>
<text x="246.00" y="383.84" font-size="13.5" text-anchor="end" font-weight="normal" fill="#000" stroke="#000" stroke-width="0.4" >200</text>
<line x1="247.10" y1="356.58" x2="250.60" y2="356.58" stroke="#000" stroke-width="1.2" stroke-linecap="butt"/>
<text x="246.00" y="361.18" font-size="13.5" text-anchor="end" font-weight="normal" fill="#000" stroke="#000" stroke-width="0.4" >400</text>
<line x1="247.10" y1="333.92" x2="250.60" y2="333.92" stroke="#000" stroke-width="1.2" stroke-linecap="butt"/>
<text x="246.00" y="338.52" font-size="13.5" text-anchor="end" font-weight="normal" fill="#000" stroke="#000" stroke-width="0.4" >600</text>
<line x1="247.10" y1="311.26" x2="250.60" y2="311.26" stroke="#000" stroke-width="1.2" stroke-linecap="butt"/>
<text x="246.00" y="315.86" font-size="13.5" text-anchor="end" font-weight="normal" fill="#000" stroke="#000" stroke-width="0.4" >800</text>
<line x1="247.10" y1="288.60" x2="250.60" y2="288.60" stroke="#000" stroke-width="1.2" stroke-linecap="butt"/>
<text x="246.00" y="293.20" font-size="13.5" text-anchor="end" font-weight="normal" fill="#000" stroke="#000" stroke-width="0.4" >1000</text>
<line x1="250.60" y1="401.90" x2="250.60" y2="405.70" stroke="#000" stroke-width="1.2" stroke-linecap="butt"/>
<line x1="277.72" y1="401.90" x2="277.72" y2="405.70" stroke="#000" stroke-width="1.2" stroke-linecap="butt"/>
<line x1="304.84" y1="401.90" x2="304.84" y2="405.70" stroke="#000" stroke-width="1.2" stroke-linecap="butt"/>
<line x1="331.96" y1="401.90" x2="331.96" y2="405.70" stroke="#000" stroke-width="1.2" stroke-linecap="butt"/>
<line x1="359.08" y1="401.90" x2="359.08" y2="405.70" stroke="#000" stroke-width="1.2" stroke-linecap="butt"/>
<line x1="386.20" y1="401.90" x2="386.20" y2="405.70" stroke="#000" stroke-width="1.2" stroke-linecap="butt"/>
<text x="263.50" y="422.00" font-size="13.5" text-anchor="middle" font-weight="normal" fill="#000" stroke="#000" stroke-width="0.4" >0</text>
<text x="290.50" y="422.00" font-size="13.5" text-anchor="middle" font-weight="normal" fill="#000" stroke="#000" stroke-width="0.4" >2</text>
<text x="317.80" y="422.00" font-size="13.5" text-anchor="middle" font-weight="normal" fill="#000" stroke="#000" stroke-width="0.4" >4</text>
<text x="345.00" y="422.00" font-size="13.5" text-anchor="middle" font-weight="normal" fill="#000" stroke="#000" stroke-width="0.4" >6</text>
<text x="372.00" y="422.00" font-size="13.5" text-anchor="middle" font-weight="normal" fill="#000" stroke="#000" stroke-width="0.4" >8</text>
<text x="318.60" y="435.80" font-size="13" text-anchor="middle" font-weight="normal" fill="#000" stroke="#000" stroke-width="0.4" >time (days)</text>
<polyline points="263.50,390.57 290.50,384.34 317.80,363.72 345.00,341.85 372.00,313.87" fill="none" stroke="#000" stroke-width="2.0" stroke-linejoin="round"/>
<polyline points="263.50,390.57 290.50,395.10 317.80,391.70 345.00,391.70 372.00,382.07" fill="none" stroke="#000" stroke-width="2.0" stroke-linejoin="round"/>
<polyline points="263.50,390.57 290.50,390.00 317.80,388.08 345.00,379.81 372.00,369.04" fill="none" stroke="#000" stroke-width="2.0" stroke-linejoin="round"/>
<line x1="317.80" y1="354.31" x2="317.80" y2="372.67" stroke="#000" stroke-width="1.2" stroke-linecap="butt"/>
<line x1="315.40" y1="354.31" x2="320.20" y2="354.31" stroke="#000" stroke-width="1.2" stroke-linecap="butt"/>
<line x1="315.40" y1="372.67" x2="320.20" y2="372.67" stroke="#000" stroke-width="1.2" stroke-linecap="butt"/>
<line x1="317.80" y1="384.90" x2="317.80" y2="397.37" stroke="#000" stroke-width="1.2" stroke-linecap="butt"/>
<line x1="315.40" y1="384.90" x2="320.20" y2="384.90" stroke="#000" stroke-width="1.2" stroke-linecap="butt"/>
<line x1="315.40" y1="397.37" x2="320.20" y2="397.37" stroke="#000" stroke-width="1.2" stroke-linecap="butt"/>
<line x1="372.00" y1="362.81" x2="372.00" y2="369.04" stroke="#000" stroke-width="1.2" stroke-linecap="butt"/>
<line x1="369.60" y1="362.81" x2="374.40" y2="362.81" stroke="#000" stroke-width="1.2" stroke-linecap="butt"/>
<line x1="372.00" y1="370.18" x2="372.00" y2="392.61" stroke="#000" stroke-width="1.2" stroke-linecap="butt"/>
<line x1="369.60" y1="370.18" x2="374.40" y2="370.18" stroke="#000" stroke-width="1.2" stroke-linecap="butt"/>
<line x1="369.60" y1="392.61" x2="374.40" y2="392.61" stroke="#000" stroke-width="1.2" stroke-linecap="butt"/>
<path d="M258.70,390.57 L263.50,385.77 L268.30,390.57 L263.50,395.37 Z" fill="#fff" stroke="#000" stroke-width="1.4" stroke-linejoin="miter"/>
<path d="M285.70,384.34 L290.50,379.54 L295.30,384.34 L290.50,389.14 Z" fill="#fff" stroke="#000" stroke-width="1.4" stroke-linejoin="miter"/>
<path d="M313.00,363.72 L317.80,358.92 L322.60,363.72 L317.80,368.52 Z" fill="#fff" stroke="#000" stroke-width="1.4" stroke-linejoin="miter"/>
<path d="M340.20,341.85 L345.00,337.05 L349.80,341.85 L345.00,346.65 Z" fill="#fff" stroke="#000" stroke-width="1.4" stroke-linejoin="miter"/>
<path d="M367.20,313.87 L372.00,309.07 L376.80,313.87 L372.00,318.67 Z" fill="#fff" stroke="#000" stroke-width="1.4" stroke-linejoin="miter"/>
<rect x="259.20" y="386.27" width="8.60" height="8.60" fill="#fff" stroke="#000" stroke-width="1.4"/>
<rect x="286.20" y="390.80" width="8.60" height="8.60" fill="#fff" stroke="#000" stroke-width="1.4"/>
<rect x="313.50" y="387.40" width="8.60" height="8.60" fill="#fff" stroke="#000" stroke-width="1.4"/>
<rect x="340.70" y="387.40" width="8.60" height="8.60" fill="#fff" stroke="#000" stroke-width="1.4"/>
<rect x="367.70" y="377.77" width="8.60" height="8.60" fill="#fff" stroke="#000" stroke-width="1.4"/>
<path d="M258.80,394.56 L263.50,385.87 L268.20,394.56 Z" fill="#fff" stroke="#000" stroke-width="1.4" stroke-linejoin="miter"/>
<path d="M285.80,394.00 L290.50,385.30 L295.20,394.00 Z" fill="#fff" stroke="#000" stroke-width="1.4" stroke-linejoin="miter"/>
<path d="M313.10,392.07 L317.80,383.38 L322.50,392.07 Z" fill="#fff" stroke="#000" stroke-width="1.4" stroke-linejoin="miter"/>
<path d="M340.30,383.80 L345.00,375.11 L349.70,383.80 Z" fill="#fff" stroke="#000" stroke-width="1.4" stroke-linejoin="miter"/>
<path d="M367.30,373.04 L372.00,364.34 L376.70,373.04 Z" fill="#fff" stroke="#000" stroke-width="1.4" stroke-linejoin="miter"/>
<line x1="253.80" y1="298.80" x2="266.00" y2="298.80" stroke="#000" stroke-width="1.4" stroke-linecap="butt"/>
<path d="M255.46,298.80 L259.60,295.20 L263.74,298.80 L259.60,302.40 Z" fill="#fff" stroke="#000" stroke-width="1.4" stroke-linejoin="miter"/>
<text x="268.40" y="302.80" font-size="12" text-anchor="start" font-weight="normal" fill="#000" stroke="#000" stroke-width="0.3" >neg</text>
<line x1="253.80" y1="315.30" x2="266.00" y2="315.30" stroke="#000" stroke-width="1.4" stroke-linecap="butt"/>
<rect x="255.90" y="311.60" width="7.40" height="7.40" fill="#fff" stroke="#000" stroke-width="1.4"/>
<text x="268.40" y="319.30" font-size="12" text-anchor="start" font-weight="normal" fill="#000" stroke="#000" stroke-width="0.3" >BTK437</text>
<line x1="253.80" y1="333.00" x2="266.00" y2="333.00" stroke="#000" stroke-width="1.4" stroke-linecap="butt"/>
<path d="M255.90,335.75 L259.60,328.16 L263.30,335.75 Z" fill="#fff" stroke="#000" stroke-width="1.4" stroke-linejoin="miter"/>
<text x="268.40" y="337.00" font-size="12" text-anchor="start" font-weight="normal" fill="#000" stroke="#000" stroke-width="0.3" >BTK1092</text>
<text x="340.30" y="304.30" font-size="14.5" text-anchor="start" font-weight="normal" fill="#000" stroke="#000" stroke-width="0.4" >U937</text>
<text x="317.80" y="386.84" font-size="17" text-anchor="middle" font-weight="normal" fill="#000" stroke="#000" stroke-width="0.5" >*</text>
<text x="344.80" y="376.84" font-size="17" text-anchor="middle" font-weight="normal" fill="#000" stroke="#000" stroke-width="0.5" >*</text>
<text x="372.00" y="360.44" font-size="17" text-anchor="middle" font-weight="normal" fill="#000" stroke="#000" stroke-width="0.5" >*</text>
<rect x="73.0" y="463.8" width="235.2" height="134.8" fill="none" stroke="#333" stroke-width="1.1"/>
<line x1="73.00" y1="463.80" x2="73.00" y2="599.20" stroke="#000" stroke-width="1.4" stroke-linecap="butt"/>
<line x1="72.50" y1="598.60" x2="308.20" y2="598.60" stroke="#000" stroke-width="1.4" stroke-linecap="butt"/>
<line x1="69.50" y1="598.60" x2="73.00" y2="598.60" stroke="#000" stroke-width="1.2" stroke-linecap="butt"/>
<text x="67.70" y="603.60" font-size="13" text-anchor="end" font-weight="normal" fill="#000" stroke="#000" stroke-width="0.4" >0</text>
<line x1="69.50" y1="581.75" x2="73.00" y2="581.75" stroke="#000" stroke-width="1.2" stroke-linecap="butt"/>
<text x="67.70" y="586.75" font-size="13" text-anchor="end" font-weight="normal" fill="#000" stroke="#000" stroke-width="0.4" >20</text>
<line x1="69.50" y1="564.90" x2="73.00" y2="564.90" stroke="#000" stroke-width="1.2" stroke-linecap="butt"/>
<text x="67.70" y="569.90" font-size="13" text-anchor="end" font-weight="normal" fill="#000" stroke="#000" stroke-width="0.4" >40</text>
<line x1="69.50" y1="548.05" x2="73.00" y2="548.05" stroke="#000" stroke-width="1.2" stroke-linecap="butt"/>
<text x="67.70" y="553.05" font-size="13" text-anchor="end" font-weight="normal" fill="#000" stroke="#000" stroke-width="0.4" >60</text>
<line x1="69.50" y1="531.20" x2="73.00" y2="531.20" stroke="#000" stroke-width="1.2" stroke-linecap="butt"/>
<text x="67.70" y="536.20" font-size="13" text-anchor="end" font-weight="normal" fill="#000" stroke="#000" stroke-width="0.4" >80</text>
<line x1="69.50" y1="514.35" x2="73.00" y2="514.35" stroke="#000" stroke-width="1.2" stroke-linecap="butt"/>
<text x="67.70" y="519.35" font-size="13" text-anchor="end" font-weight="normal" fill="#000" stroke="#000" stroke-width="0.4" >100</text>
<line x1="69.50" y1="497.50" x2="73.00" y2="497.50" stroke="#000" stroke-width="1.2" stroke-linecap="butt"/>
<text x="67.70" y="502.50" font-size="13" text-anchor="end" font-weight="normal" fill="#000" stroke="#000" stroke-width="0.4" >120</text>
<line x1="69.50" y1="480.65" x2="73.00" y2="480.65" stroke="#000" stroke-width="1.2" stroke-linecap="butt"/>
<text x="67.70" y="485.65" font-size="13" text-anchor="end" font-weight="normal" fill="#000" stroke="#000" stroke-width="0.4" >140</text>
<line x1="69.50" y1="463.80" x2="73.00" y2="463.80" stroke="#000" stroke-width="1.2" stroke-linecap="butt"/>
<text x="67.70" y="468.80" font-size="13" text-anchor="end" font-weight="normal" fill="#000" stroke="#000" stroke-width="0.4" >160</text>
<line x1="73.00" y1="598.60" x2="73.00" y2="602.10" stroke="#000" stroke-width="1.1" stroke-linecap="butt"/>
<line x1="152.30" y1="598.60" x2="152.30" y2="602.10" stroke="#000" stroke-width="1.1" stroke-linecap="butt"/>
<line x1="230.30" y1="598.60" x2="230.30" y2="602.10" stroke="#000" stroke-width="1.1" stroke-linecap="butt"/>
<line x1="308.20" y1="598.60" x2="308.20" y2="602.10" stroke="#000" stroke-width="1.1" stroke-linecap="butt"/>
<line x1="85.33" y1="493.29" x2="85.33" y2="505.08" stroke="#000" stroke-width="1.0" stroke-linecap="butt"/>
<line x1="83.53" y1="493.29" x2="87.12" y2="493.29" stroke="#000" stroke-width="1.0" stroke-linecap="butt"/>
<rect x="80.70" y="505.08" width="9.25" height="93.52" fill="#ffffff" stroke="#000" stroke-width="1.1"/>
<line x1="94.58" y1="499.19" x2="94.58" y2="511.82" stroke="#000" stroke-width="1.0" stroke-linecap="butt"/>
<line x1="92.78" y1="499.19" x2="96.38" y2="499.19" stroke="#000" stroke-width="1.0" stroke-linecap="butt"/>
<rect x="89.95" y="511.82" width="9.25" height="86.78" fill="#dcdcdc" stroke="#000" stroke-width="1.1"/>
<line x1="103.83" y1="504.24" x2="103.83" y2="520.25" stroke="#000" stroke-width="1.0" stroke-linecap="butt"/>
<line x1="102.03" y1="504.24" x2="105.62" y2="504.24" stroke="#000" stroke-width="1.0" stroke-linecap="butt"/>
<rect x="99.20" y="520.25" width="9.25" height="78.35" fill="#a9a9a9" stroke="#000" stroke-width="1.1"/>
<line x1="113.08" y1="502.56" x2="113.08" y2="507.61" stroke="#000" stroke-width="1.0" stroke-linecap="butt"/>
<line x1="111.28" y1="502.56" x2="114.88" y2="502.56" stroke="#000" stroke-width="1.0" stroke-linecap="butt"/>
<rect x="108.45" y="507.61" width="9.25" height="90.99" fill="#868686" stroke="#000" stroke-width="1.1"/>
<line x1="122.33" y1="494.97" x2="122.33" y2="507.19" stroke="#000" stroke-width="1.0" stroke-linecap="butt"/>
<line x1="120.53" y1="494.97" x2="124.12" y2="494.97" stroke="#000" stroke-width="1.0" stroke-linecap="butt"/>
<rect x="117.70" y="507.19" width="9.25" height="91.41" fill="#5e5e5e" stroke="#000" stroke-width="1.1"/>
<line x1="131.57" y1="494.13" x2="131.57" y2="506.77" stroke="#000" stroke-width="1.0" stroke-linecap="butt"/>
<line x1="129.77" y1="494.13" x2="133.38" y2="494.13" stroke="#000" stroke-width="1.0" stroke-linecap="butt"/>
<rect x="126.95" y="506.77" width="9.25" height="91.83" fill="#2e2e2e" stroke="#000" stroke-width="1.1"/>
<line x1="140.82" y1="511.40" x2="140.82" y2="512.66" stroke="#000" stroke-width="1.0" stroke-linecap="butt"/>
<line x1="139.02" y1="511.40" x2="142.62" y2="511.40" stroke="#000" stroke-width="1.0" stroke-linecap="butt"/>
<rect x="136.20" y="512.66" width="9.25" height="85.94" fill="#000000" stroke="#000" stroke-width="1.1"/>
<line x1="163.36" y1="488.65" x2="163.36" y2="508.45" stroke="#000" stroke-width="1.0" stroke-linecap="butt"/>
<line x1="161.56" y1="488.65" x2="165.16" y2="488.65" stroke="#000" stroke-width="1.0" stroke-linecap="butt"/>
<rect x="158.70" y="508.45" width="9.33" height="90.15" fill="#ffffff" stroke="#000" stroke-width="1.1"/>
<line x1="172.69" y1="477.28" x2="172.69" y2="502.56" stroke="#000" stroke-width="1.0" stroke-linecap="butt"/>
<line x1="170.89" y1="477.28" x2="174.50" y2="477.28" stroke="#000" stroke-width="1.0" stroke-linecap="butt"/>
<rect x="168.03" y="502.56" width="9.33" height="96.05" fill="#dcdcdc" stroke="#000" stroke-width="1.1"/>
<line x1="182.02" y1="505.08" x2="182.02" y2="520.25" stroke="#000" stroke-width="1.0" stroke-linecap="butt"/>
<line x1="180.22" y1="505.08" x2="183.82" y2="505.08" stroke="#000" stroke-width="1.0" stroke-linecap="butt"/>
<rect x="177.36" y="520.25" width="9.33" height="78.35" fill="#a9a9a9" stroke="#000" stroke-width="1.1"/>
<line x1="191.35" y1="491.60" x2="191.35" y2="505.08" stroke="#000" stroke-width="1.0" stroke-linecap="butt"/>
<line x1="189.55" y1="491.60" x2="193.16" y2="491.60" stroke="#000" stroke-width="1.0" stroke-linecap="butt"/>
<rect x="186.69" y="505.08" width="9.33" height="93.52" fill="#868686" stroke="#000" stroke-width="1.1"/>
<line x1="200.68" y1="550.58" x2="200.68" y2="560.94" stroke="#000" stroke-width="1.0" stroke-linecap="butt"/>
<line x1="198.88" y1="550.58" x2="202.48" y2="550.58" stroke="#000" stroke-width="1.0" stroke-linecap="butt"/>
<rect x="196.02" y="560.94" width="9.33" height="37.66" fill="#5e5e5e" stroke="#000" stroke-width="1.1"/>
<line x1="210.01" y1="537.10" x2="210.01" y2="549.74" stroke="#000" stroke-width="1.0" stroke-linecap="butt"/>
<line x1="208.21" y1="537.10" x2="211.81" y2="537.10" stroke="#000" stroke-width="1.0" stroke-linecap="butt"/>
<rect x="205.35" y="549.74" width="9.33" height="48.87" fill="#2e2e2e" stroke="#000" stroke-width="1.1"/>
<line x1="219.34" y1="542.15" x2="219.34" y2="550.16" stroke="#000" stroke-width="1.0" stroke-linecap="butt"/>
<line x1="217.54" y1="542.15" x2="221.15" y2="542.15" stroke="#000" stroke-width="1.0" stroke-linecap="butt"/>
<rect x="214.68" y="550.16" width="9.33" height="48.44" fill="#000000" stroke="#000" stroke-width="1.1"/>
<line x1="241.92" y1="501.71" x2="241.92" y2="505.08" stroke="#000" stroke-width="1.0" stroke-linecap="butt"/>
<line x1="240.12" y1="501.71" x2="243.72" y2="501.71" stroke="#000" stroke-width="1.0" stroke-linecap="butt"/>
<rect x="237.20" y="505.08" width="9.44" height="93.52" fill="#ffffff" stroke="#000" stroke-width="1.1"/>
<line x1="251.36" y1="491.60" x2="251.36" y2="505.08" stroke="#000" stroke-width="1.0" stroke-linecap="butt"/>
<line x1="249.56" y1="491.60" x2="253.16" y2="491.60" stroke="#000" stroke-width="1.0" stroke-linecap="butt"/>
<rect x="246.64" y="505.08" width="9.44" height="93.52" fill="#dcdcdc" stroke="#000" stroke-width="1.1"/>
<line x1="260.80" y1="515.19" x2="260.80" y2="525.72" stroke="#000" stroke-width="1.0" stroke-linecap="butt"/>
<line x1="259.00" y1="515.19" x2="262.60" y2="515.19" stroke="#000" stroke-width="1.0" stroke-linecap="butt"/>
<rect x="256.08" y="525.72" width="9.44" height="72.88" fill="#a9a9a9" stroke="#000" stroke-width="1.1"/>
<line x1="270.24" y1="497.50" x2="270.24" y2="511.82" stroke="#000" stroke-width="1.0" stroke-linecap="butt"/>
<line x1="268.44" y1="497.50" x2="272.04" y2="497.50" stroke="#000" stroke-width="1.0" stroke-linecap="butt"/>
<rect x="265.52" y="511.82" width="9.44" height="86.78" fill="#868686" stroke="#000" stroke-width="1.1"/>
<line x1="279.68" y1="528.67" x2="279.68" y2="544.68" stroke="#000" stroke-width="1.0" stroke-linecap="butt"/>
<line x1="277.88" y1="528.67" x2="281.48" y2="528.67" stroke="#000" stroke-width="1.0" stroke-linecap="butt"/>
<rect x="274.96" y="544.68" width="9.44" height="53.92" fill="#5e5e5e" stroke="#000" stroke-width="1.1"/>
<line x1="289.12" y1="524.46" x2="289.12" y2="532.04" stroke="#000" stroke-width="1.0" stroke-linecap="butt"/>
<line x1="287.32" y1="524.46" x2="290.92" y2="524.46" stroke="#000" stroke-width="1.0" stroke-linecap="butt"/>
<rect x="284.40" y="532.04" width="9.44" height="66.56" fill="#2e2e2e" stroke="#000" stroke-width="1.1"/>
<line x1="298.56" y1="554.79" x2="298.56" y2="559.85" stroke="#000" stroke-width="1.0" stroke-linecap="butt"/>
<line x1="296.76" y1="554.79" x2="300.36" y2="554.79" stroke="#000" stroke-width="1.0" stroke-linecap="butt"/>
<rect x="293.84" y="559.85" width="9.44" height="38.75" fill="#000000" stroke="#000" stroke-width="1.1"/>
<text x="200.50" y="538.84" font-size="17" text-anchor="middle" font-weight="normal" fill="#000" stroke="#000" stroke-width="0.5" >*</text>
<text x="210.00" y="529.84" font-size="17" text-anchor="middle" font-weight="normal" fill="#000" stroke="#000" stroke-width="0.5" >*</text>
<text x="220.40" y="534.54" font-size="17" text-anchor="middle" font-weight="normal" fill="#000" stroke="#000" stroke-width="0.5" >*</text>
<text x="280.40" y="523.54" font-size="17" text-anchor="middle" font-weight="normal" fill="#000" stroke="#000" stroke-width="0.5" >*</text>
<text x="289.50" y="519.84" font-size="17" text-anchor="middle" font-weight="normal" fill="#000" stroke="#000" stroke-width="0.5" >*</text>
<text x="300.00" y="549.74" font-size="17" text-anchor="middle" font-weight="normal" fill="#000" stroke="#000" stroke-width="0.5" >*</text>
<text x="110.00" y="618.30" font-size="12.5" text-anchor="middle" font-weight="normal" fill="#000" stroke="#000" stroke-width="0.45" >neg</text>
<text x="191.50" y="618.30" font-size="12.6" text-anchor="middle" font-weight="normal" fill="#000" stroke="#000" stroke-width="0.45" >BTK437</text>
<text x="271.20" y="618.30" font-size="12.6" text-anchor="middle" font-weight="normal" fill="#000" stroke="#000" stroke-width="0.45" >BTK1092</text>
<text transform="translate(25.80,530.00) rotate(-90)" font-size="11.9" text-anchor="middle" font-weight="normal" fill="#000" stroke="#000" stroke-width="0.3">CFC  (% of DMSO</text>
<text transform="translate(40.60,529.30) rotate(-90)" font-size="11.9" text-anchor="middle" font-weight="normal" fill="#000" stroke="#000" stroke-width="0.3">treated control)</text>
<rect x="324.3" y="477.20" width="6.4" height="6.4" fill="#ffffff" stroke="#000" stroke-width="1.0"/>
<text x="333.60" y="485.20" font-size="13.3" text-anchor="start" font-weight="normal" fill="#000" stroke="#000" stroke-width="0.5" >CD34+</text>
<rect x="324.3" y="496.68" width="6.4" height="6.4" fill="#dcdcdc" stroke="#000" stroke-width="1.0"/>
<text x="333.60" y="504.68" font-size="13.3" text-anchor="start" font-weight="normal" fill="#000" stroke="#000" stroke-width="0.5" >AML#9</text>
<rect x="324.3" y="516.16" width="6.4" height="6.4" fill="#a9a9a9" stroke="#000" stroke-width="1.0"/>
<text x="333.60" y="524.16" font-size="13.3" text-anchor="start" font-weight="normal" fill="#000" stroke="#000" stroke-width="0.5" >AML#17</text>
<rect x="324.3" y="535.64" width="6.4" height="6.4" fill="#868686" stroke="#000" stroke-width="1.0"/>
<text x="333.60" y="543.64" font-size="13.3" text-anchor="start" font-weight="normal" fill="#000" stroke="#000" stroke-width="0.5" >TF-1</text>
<rect x="324.3" y="555.12" width="6.4" height="6.4" fill="#5e5e5e" stroke="#000" stroke-width="1.0"/>
<text x="333.60" y="563.12" font-size="13.3" text-anchor="start" font-weight="normal" fill="#000" stroke="#000" stroke-width="0.5" >AML#19</text>
<rect x="324.3" y="574.60" width="6.4" height="6.4" fill="#2e2e2e" stroke="#000" stroke-width="1.0"/>
<text x="333.60" y="582.60" font-size="13.3" text-anchor="start" font-weight="normal" fill="#000" stroke="#000" stroke-width="0.5" >AML#8</text>
<rect x="324.3" y="594.08" width="6.4" height="6.4" fill="#000000" stroke="#000" stroke-width="1.0"/>
<text x="333.60" y="602.08" font-size="13.3" text-anchor="start" font-weight="normal" fill="#000" stroke="#000" stroke-width="0.5" >U937</text>
</svg>
</body></html>
